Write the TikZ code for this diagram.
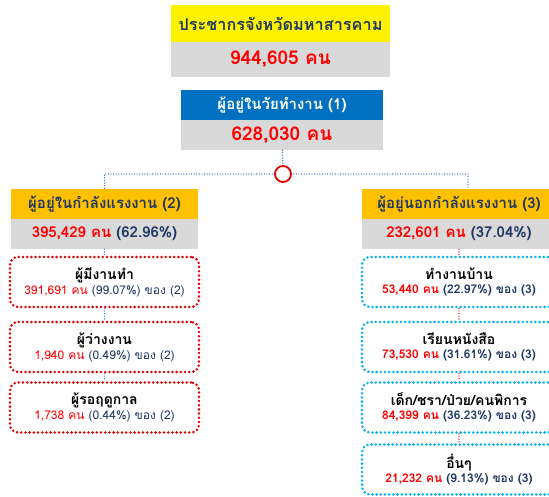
\documentclass[tikz,border=0pt]{standalone}
\usepackage{fontspec}
\setmainfont[Script=Thai]{Loma}
\usetikzlibrary{calc}

\definecolor{navy}{HTML}{1F3864}
\definecolor{gold}{HTML}{FFC000}
\definecolor{headblue}{HTML}{0070C0}
\definecolor{boxgray}{HTML}{D9D9D9}
\definecolor{skyblue}{HTML}{00B0F0}
\definecolor{linkblue}{HTML}{4472C4}
\definecolor{dotred}{HTML}{E00000}

\newcommand{\boxlines}[5]{{\bfseries\fontsize{14}{16}\selectfont #1}\\[2pt]%
  {#5\fontsize{12}{14}\selectfont\textcolor{red}{#2 คน} \textcolor{navy}{(#3\%) ของ (#4)}}}

\tikzset{
  headbox/.style={minimum height=30pt, inner sep=0pt, text=navy,
    font=\bfseries\fontsize{15}{18}\selectfont},
  numbox/.style={fill=boxgray, minimum height=30pt, inner sep=0pt,
    font=\bfseries\fontsize{15}{18}\selectfont},
  bignum/.style={numbox, text=red, font=\bfseries\fontsize{19}{22}\selectfont},
  dotbox/.style={line width=2.8pt, dash pattern=on 0pt off 4.2pt, line cap=round,
    rounded corners=8pt, inner sep=0pt, align=center, minimum height=50pt},
  redbox/.style={dotbox, draw=dotred, minimum width=189pt},
  bluebox/.style={dotbox, draw=skyblue, minimum width=194pt},
  link/.style={draw=linkblue, line width=1.4pt, dash pattern=on 0pt off 2.6pt, line cap=round},
  redlink/.style={link, draw=dotred}
}

\begin{document}
\begin{tikzpicture}[x=1pt,y=-1pt]
  \useasboundingbox (0,0) rectangle (549,496);
  \clip (0,0) rectangle (549,496);

  \node[headbox, fill=yellow, minimum width=219pt, minimum height=37pt, font=\bfseries\fontsize{16.3}{19}\selectfont] (prov) at (280.5,23.5) {ประชากรจังหวัดมหาสารคาม};
  \node[bignum, minimum width=219pt, minimum height=35pt] (provnum) at (280.5,59.5) {944,605 คน};

  \node[headbox, fill=headblue, text=white, minimum width=202pt] (work) at (282,105) {ผู้อยู่ในวัยทำงาน (1)};
  \node[bignum, minimum width=202pt] (worknum) at (282,135) {628,030 คน};

  \node[headbox, fill=gold, minimum width=187pt] (inlf) at (104.5,204) {ผู้อยู่ในกำลังแรงงาน (2)};
  \node[numbox, minimum width=187pt] (inlfnum) at (104.5,234) {\textcolor{red}{395,429 คน} \textcolor{navy}{(62.96\%)}};

  \node[headbox, fill=gold, minimum width=194pt] (outlf) at (459,204) {ผู้อยู่นอกกำลังแรงงาน (3)};
  \node[numbox, minimum width=194pt] (outlfnum) at (459,234) {\textcolor{red}{232,601 คน} \textcolor{navy}{(37.04\%)}};

  \node[circle, minimum size=16pt, inner sep=0pt] (split) at (283,174) {};
  \draw[link] (worknum) -- (split);
  \draw[link] (split) -| (inlf);
  \draw[link] (split) -| ([xshift=9pt]outlf.north);
  \node[circle, draw=dotred, line width=1.8pt, fill=white, minimum size=16pt, inner sep=0pt] at (split) {};

  \foreach \n/\y/\title/\num/\pct in {
      1/282/ผู้มีงานทำ/{391,691}/99.07,
      2/347/ผู้ว่างงาน/{1,940}/0.49,
      3/407.5/ผู้รอฤดูกาล/{1,738}/0.44} {
    \node[redbox] (inlf\n) at (104.5,\y) {\boxlines{\title}{\num}{\pct}{2}{\mdseries}};
  }

  \foreach \n/\y/\title/\num/\pct in {
      1/282/ทำงานบ้าน/{53,440}/22.97,
      2/347/เรียนหนังสือ/{73,530}/31.61,
      3/407.5/{เด็ก/ชรา/ป่วย/คนพิการ}/{84,399}/36.23,
      4/469.5/อื่นๆ/{21,232}/9.13} {
    \node[bluebox] (outlf\n) at (459,\y) {\boxlines{\title}{\num}{\pct}{3}{\bfseries}};
  }

  \draw[link] (inlfnum) -- (inlf1);
  \draw[link] (inlf1) -- (inlf2);
  \draw[link] (inlf2) -- (inlf3);

  \draw[redlink] (outlfnum) -- (outlf1);
  \draw[redlink] (outlf1) -- (outlf2);
  \draw[redlink] (outlf2) -- (outlf3);
  \draw[redlink] (outlf3) -- (outlf4);
\end{tikzpicture}
\end{document}
